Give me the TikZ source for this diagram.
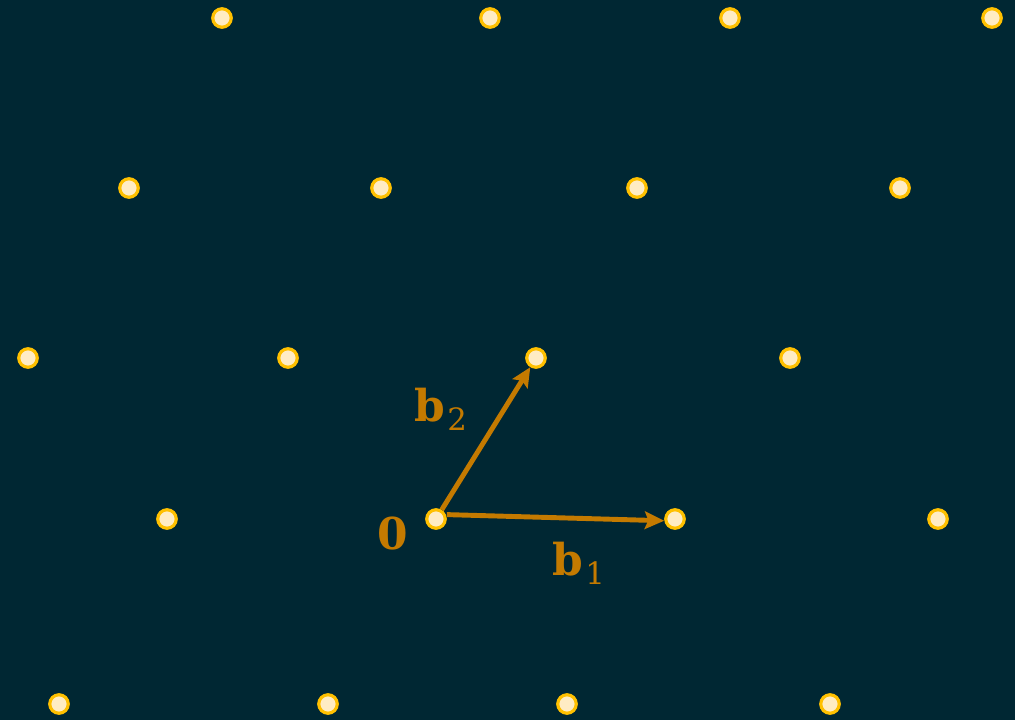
\documentclass[tikz,border=0pt]{standalone}
\usepackage{fontspec}
\setmainfont{DejaVu Serif}
\usetikzlibrary{arrows.meta}
\definecolor{bgteal}{RGB}{0,39,51}
\definecolor{ring}{RGB}{255,192,0}
\definecolor{cream}{RGB}{255,236,196}
\definecolor{vecorange}{RGB}{196,122,0}
\newcommand{\vsub}[1]{\kern1pt\raisebox{-5pt}{\fontsize{17.5}{20}\selectfont\mdseries #1}}

\begin{document}
\begin{tikzpicture}[x=0.02cm,y=-0.02cm,
    dot/.style={circle,draw=ring,fill=cream,line width=1.8pt,minimum size=0.37cm,inner sep=0pt},
    vec/.style={vecorange,line width=2.8pt,-{Stealth[length=11pt,width=10pt,inset=2pt]}},
    lbl/.style={vecorange,font=\fontsize{25}{30}\selectfont\bfseries}]
  \fill[bgteal] (0,0) rectangle (1015,720);
  \useasboundingbox (0,0) rectangle (1015,720);
  % lattice points, row by row
  \foreach \x/\y/\n in {222/18/a1, 490/18/a2, 730/18/a3, 992/18/a4,
                        129/188/c1, 381/188/c2, 637/188/c3, 900/188/c4,
                        28/358/d1, 288/358/d2, 536/358/p2, 790/358/d4,
                        167/519/e1, 436/519/o, 675/519/p1, 938/519/e4,
                        59/704/f1, 328/704/f2, 567/704/f3, 830/704/f4}
    \node[dot] (\n) at (\x,\y) {};
  % basis vectors
  \draw[vec] ([yshift=2.5pt]o.east) -- ([yshift=-1pt]p1.west);
  \draw[vec] (o) -- (p2);
  \node[lbl] (zero) at (393,534) {0};
  \node[lbl] (lb1) at (579,563) {b\vsub{1}};
  \node[lbl] (lb2) at (441,409) {b\vsub{2}};
\end{tikzpicture}
\end{document}
